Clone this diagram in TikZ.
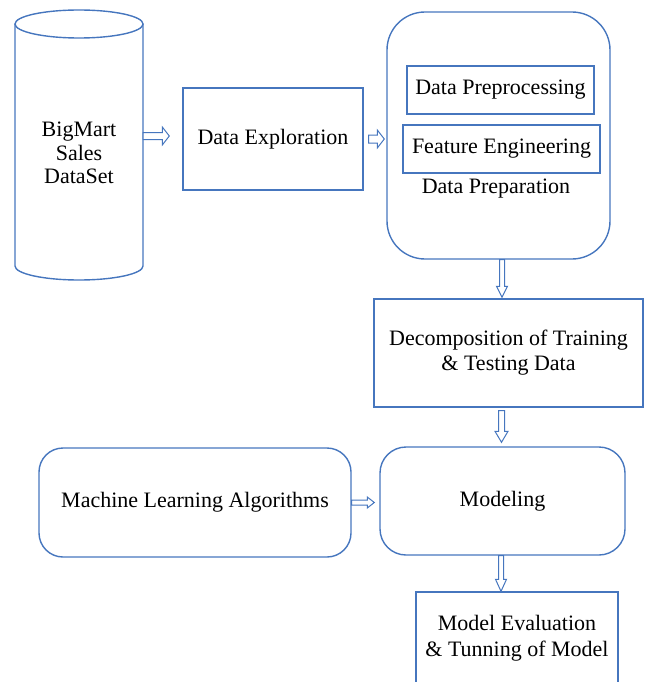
\documentclass[tikz,border=0pt]{standalone}
\usepackage{fontspec}
\setmainfont{Liberation Serif}
\usetikzlibrary{calc}
\definecolor{bl}{RGB}{70,118,190}
\newcommand\harr[6]{\draw[blk] let \p1=(#1), \p2=(#2) in (\x1,\y1+#4) -- (\x2-#3-#6,\y1+#4) -- (\x2-#3-#6,\y1+#5) -- (\x2-#3,\y1) -- (\x2-#3-#6,\y1-#5) -- (\x2-#3-#6,\y1-#4) -- (\x1,\y1-#4) -- cycle;}
\newcommand\varr[6]{\draw[blk] let \p1=(#1), \p2=(#2) in (\x1-#4,\y1) -- (\x1-#4,\y2+#3+#6) -- (\x1-#5,\y2+#3+#6) -- (\x1,\y2+#3) -- (\x1+#5,\y2+#3+#6) -- (\x1+#4,\y2+#3+#6) -- (\x1+#4,\y1) -- cycle;}
\begin{document}
\begin{tikzpicture}[x=1pt,y=-1pt,
  txt/.style={align=center, inner sep=0pt, font=\fontsize{22}{25}\selectfont},
  box/.style={txt, draw=bl, line width=1.4pt},
  rbox/.style={box, rounded corners=#1},
  cylline/.style={draw=bl, line width=1.4pt},
  blk/.style={draw=bl, line width=1pt, fill=white, line join=miter}]
\useasboundingbox (0,0) rectangle (646,682);

% cylinder
\draw[cylline] (15,24) -- (15,266) arc[start angle=180, end angle=0, x radius=64, y radius=14] -- (143,24);
\draw[cylline] (79,24) ellipse[x radius=64, y radius=14];
\node[txt, minimum width=128pt, font=\fontsize{22}{23.5}\selectfont] (cyl) at (79,153) {BigMart\\Sales\\DataSet};

\node[box, minimum width=180pt, minimum height=102pt] (explore) at (273,139) {Data Exploration};

\node[rbox=38pt, minimum width=223pt, minimum height=247pt] (prep) at (498.5,135.5) {};
\node[box, minimum width=187pt, minimum height=48pt] (preproc) at (500.5,90) {Data Preprocessing};
\node[box, minimum width=197pt, minimum height=48pt] (feat) at (501.5,149) {Feature Engineering};
\node[txt] (preplabel) at (496,189) {Data Preparation};

\node[box, minimum width=269pt, minimum height=108pt] (decomp) at (508.5,353) {Decomposition of Training\\\& Testing Data};

\node[rbox=24pt, minimum width=312pt, minimum height=109pt] (ml) at (195,502.5) {Machine Learning Algorithms};
\node[rbox=26pt, minimum width=245pt, minimum height=108pt] (model) at (502.5,501) {Modeling};

\node[box, minimum width=202pt, minimum height=92pt, font=\fontsize{22}{26}\selectfont] (eval) at (517,638) {Model Evaluation\\\& Tunning of Model};

% arrows
\harr{$(cyl.east |- explore.west)+(0,-3)$}{explore.west}{13}{3.5}{9}{7}
\harr{$(explore.east)+(5,0)$}{prep.west}{2}{4}{9}{7}
\varr{$(prep.south)+(3.5,0)$}{decomp.north}{1}{2.5}{5.5}{11}
\varr{$(decomp.south -| model.north)+(-1,3)$}{model.north}{4}{3}{6.5}{11}
\harr{ml.east}{model.west}{5}{2.5}{5.5}{7}
\varr{$(model.south)+(-1.5,0)$}{eval.north}{0}{2.5}{5.5}{12}
\end{tikzpicture}
\end{document}
